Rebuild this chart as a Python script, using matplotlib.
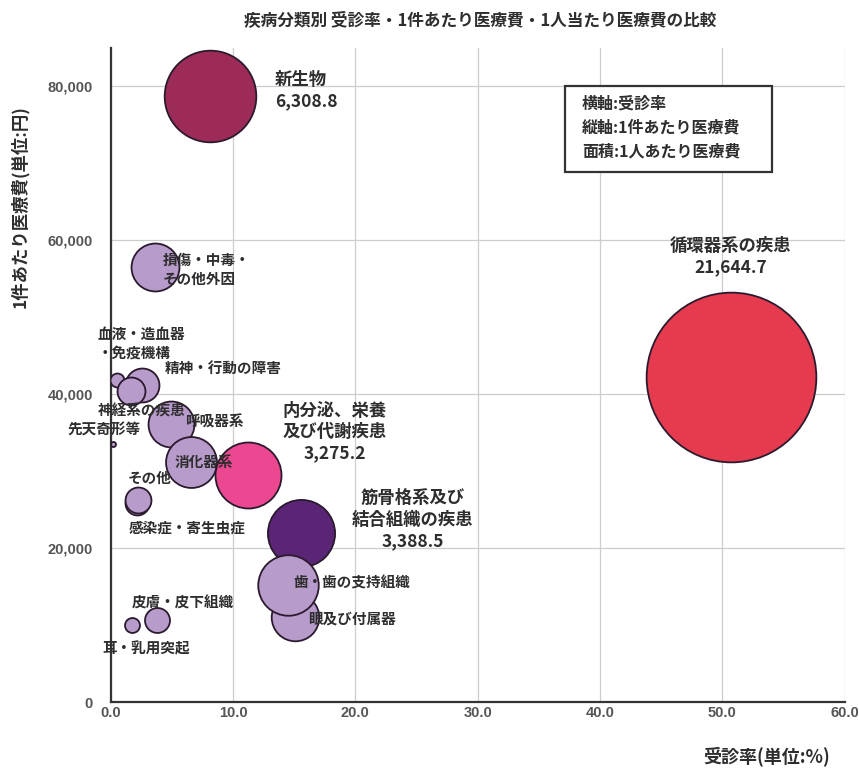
import matplotlib
matplotlib.use("Agg")
import matplotlib.pyplot as plt
from matplotlib.patches import Rectangle
from matplotlib.ticker import FuncFormatter
import numpy as np

plt.rcParams['font.family'] = ['Noto Sans CJK JP', 'DejaVu Sans']

# ---- data ----
categories = [
    "感染症・寄生虫症", "新生物", "血液・造血器\n・免疫機構", "精神・行動の障害",
    "神経系の疾患", "眼及び付属器", "耳・乳用突起", "循環器系の疾患",
    "呼吸器系", "消化器系", "内分泌、栄養\n及び代謝疾患", "歯・歯の支持組織",
    "皮膚・皮下組織", "筋骨格系及び\n結合組織の疾患", "先天奇形等",
    "損傷・中毒・\nその他外因", "その他",
]
# 受診率 (%)
visit_rate = [2.15, 8.1, 0.5, 2.55, 1.65, 15.05, 1.75, 50.7,
              4.9, 6.6, 11.2, 14.5, 3.8, 15.55, 0.2, 3.6, 2.2]
# 1件あたり医療費 (円)
cost_per_case = [25800, 78700, 41800, 41200, 40400, 11000, 10000, 42300,
                 36100, 31200, 29500, 15200, 10600, 21900, 33500, 56500, 26200]
# 1人当たり医療費 (円)
cost_per_person = [430, 6308.8, 147, 865, 587, 1700, 168, 21644.7,
                   1584, 1947, 3275.2, 2750, 468, 3388.5, 19, 1725, 506]
# categories whose per-person cost is printed
show_value = {"新生物", "循環器系の疾患", "内分泌、栄養\n及び代謝疾患", "筋骨格系及び\n結合組織の疾患"}

x_ticks = [0, 10, 20, 30, 40, 50, 60]
y_ticks = [0, 20000, 40000, 60000, 80000]

# ---- styles ----
LAV = "#B79BCB"
colors = {
    "新生物": "#9C2B57",
    "循環器系の疾患": "#E63A4E",
    "内分泌、栄養\n及び代謝疾患": "#EC4891",
    "筋骨格系及び\n結合組織の疾患": "#5A2575",
}
TXT = "#2E2E2E"
PX = 72 / 100  # points per pixel at dpi=100
SIZE_SCALE = 0.69  # marker area (pt^2) per yen

# label placement: offset from bubble centre in pixels, alignment, font size
label_style = {
    "感染症・寄生虫症": ((-8, -24), "left", 10.5),
    "新生物": ((65, 6), "left", 12.5),
    "血液・造血器\n・免疫機構": ((-19, 37), "left", 10.5),
    "精神・行動の障害": ((23, 17), "left", 10.5),
    "神経系の疾患": ((-33, -19), "left", 10.5),
    "眼及び付属器": ((13, -1), "left", 10.5),
    "耳・乳用突起": ((-30, -23), "left", 10.5),
    "循環器系の疾患": ((0, 120), "center", 12.5),
    "呼吸器系": ((14, 3), "left", 10.5),
    "消化器系": ((-17, 0), "left", 10.5),
    "内分泌、栄養\n及び代謝疾患": ((87, 43), "center", 12.5),
    "歯・歯の支持組織": ((5, 3), "left", 10.5),
    "皮膚・皮下組織": ((-25, 18), "left", 10.5),
    "筋骨格系及び\n結合組織の疾患": ((112, 14), "center", 12.5),
    "先天奇形等": ((27, 16), "right", 10.5),
    "損傷・中毒・\nその他外因": ((8, -2), "left", 10.5),
    "その他": ((-10, 23), "left", 10.5),
}

# drawing order (later = on top)
draw_order = [
    "新生物", "循環器系の疾患", "損傷・中毒・\nその他外因", "血液・造血器\n・免疫機構",
    "精神・行動の障害", "神経系の疾患", "呼吸器系", "消化器系",
    "内分泌、栄養\n及び代謝疾患", "筋骨格系及び\n結合組織の疾患", "眼及び付属器",
    "歯・歯の支持組織", "感染症・寄生虫症", "その他", "皮膚・皮下組織",
    "耳・乳用突起", "先天奇形等",
]

fig = plt.figure(figsize=(8.59, 7.68), dpi=100)
fig.patch.set_facecolor("white")
ax = fig.add_axes([110.7 / 859, 1 - 702 / 768, 734 / 859, 654 / 768])

ax.set_xlim(0, 60)
ax.set_ylim(0, 85000)

for name in draw_order:
    i = categories.index(name)
    ax.scatter(visit_rate[i], cost_per_case[i], s=cost_per_person[i] * SIZE_SCALE,
               color=colors.get(name, LAV), edgecolors="#2B1A2E", linewidths=1.3,
               zorder=3)

for i, name in enumerate(categories):
    (dx, dy), ha, fs = label_style[name]
    txt = name
    if name in show_value:
        txt = f"{name}\n{cost_per_person[i]:,.1f}"
    ax.annotate(txt, (visit_rate[i], cost_per_case[i]),
                xytext=(dx * PX, dy * PX), textcoords="offset points",
                ha=ha, va="center", multialignment=ha,
                fontsize=fs, fontweight="bold", color=TXT, zorder=5,
                linespacing=1.25)

# axes styling
ax.set_xticks(x_ticks)
ax.set_yticks(y_ticks)
ax.xaxis.set_major_formatter(FuncFormatter(lambda v, p: f"{v:.1f}"))
ax.yaxis.set_major_formatter(FuncFormatter(lambda v, p: f"{int(v):,}"))
ax.grid(True, color="#CDCDCD", linewidth=0.9, zorder=0)
ax.set_axisbelow(True)
for side in ["top", "right"]:
    ax.spines[side].set_visible(False)
for side in ["left", "bottom"]:
    ax.spines[side].set_color("#333333")
    ax.spines[side].set_linewidth(1.6)
ax.tick_params(length=0)
ax.tick_params(axis="y", pad=13)
ax.tick_params(axis="x", pad=3)
for lab in ax.get_xticklabels() + ax.get_yticklabels():
    lab.set_fontfamily(["Liberation Sans", "DejaVu Sans"])
    lab.set_fontsize(10.5)
    lab.set_fontweight("bold")
    lab.set_color("#555555")

# titles
fig.text(480 / 859, 1 - 21 / 768, "疾病分類別 受診率・1件あたり医療費・1人当たり医療費の比較",
         ha="center", va="center", fontsize=12, fontweight="bold", color=TXT)
fig.text(20 / 859, 1 - 207 / 768, "1件あたり医療費(単位:円)", rotation=90,
         ha="center", va="center", fontsize=12.5, fontweight="bold", color=TXT)
fig.text(830 / 859, 1 - 757 / 768, "受診率(単位:%)", ha="right", va="center",
         fontsize=13, fontweight="bold", color=TXT)

# explanatory box
fig.add_artist(Rectangle((565 / 859, 1 - 172 / 768), 207 / 859, 86 / 768,
                         transform=fig.transFigure, facecolor="white",
                         edgecolor="#333333", linewidth=1.6, zorder=4))
for k, line in enumerate(["横軸:受診率", "縦軸:1件あたり医療費", "面積:1人あたり医療費"]):
    fig.text(582 / 859, 1 - (104 + 24 * k) / 768, line, ha="left", va="center",
             fontsize=11.5, fontweight="bold", color=TXT, zorder=5)

fig.savefig("out.png", dpi=100, facecolor="white")
